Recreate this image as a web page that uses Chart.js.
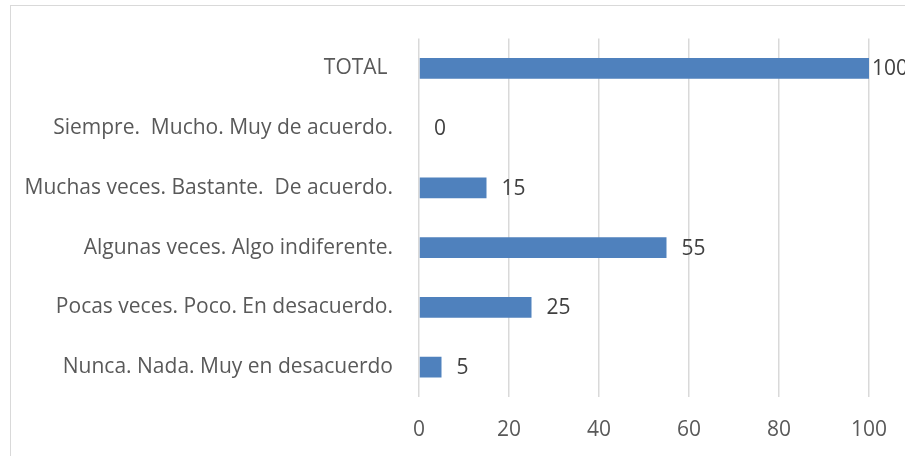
<!DOCTYPE html>
<html>
<head>
<meta charset="utf-8">
<script src="https://cdn.jsdelivr.net/npm/chart.js@4"></script>
<style>
  html, body { margin:0; padding:0; background:#fff; overflow:hidden; }
  #wrap { position:relative; width:905px; height:456px; }
  #frame {
    position:absolute; left:10px; top:5px; width:1000px; height:600px;
    border:1px solid #d9d9d9; box-sizing:border-box;
  }
  #grafico { position:absolute; left:0; top:0; }
</style>
</head>
<body>
<div id="wrap">
  <div id="frame"></div>
  <canvas id="grafico" width="905" height="456"></canvas>
</div>
<script>
// ===== DATOS =====
const categorias = [
  "TOTAL ",
  "Siempre.  Mucho. Muy de acuerdo.",
  "Muchas veces. Bastante.  De acuerdo.",
  "Algunas veces. Algo indiferente.",
  "Pocas veces. Poco. En desacuerdo.",
  "Nunca. Nada. Muy en desacuerdo"
];
const valores = [100, 0, 15, 55, 25, 5];
const ticksX = [0, 20, 40, 60, 80, 100];

const fuente = "'Open Sans', 'Noto Sans', sans-serif";
const gris = '#595959';

// etiquetas de valor a la derecha de cada barra
const etiquetas = {
  id:'etiquetas',
  afterDatasetsDraw(chart){
    const ctx = chart.ctx;
    const meta = chart.getDatasetMeta(0);
    const area = chart.chartArea;
    ctx.save();
    ctx.font = '21px ' + fuente;
    ctx.fillStyle = '#404040';
    ctx.textAlign = 'left';
    ctx.textBaseline = 'middle';
    meta.data.forEach((bar,i)=>{
      const x = Math.min(bar.x + 15, area.right + 3);
      ctx.fillText(String(valores[i]), x, bar.y + 1);
    });
    ctx.restore();
  }
};

new Chart(document.getElementById('grafico'), {
  type:'bar',
  data:{
    labels:categorias,
    datasets:[{
      data:valores,
      backgroundColor:'#4f81bd',
      borderWidth:0,
      barPercentage:0.55,
      categoryPercentage:0.63
    }]
  },
  options:{
    indexAxis:'y',
    responsive:false,
    animation:false,
    layout:{ padding:{ left:0, right:36, top:35, bottom:0 } },
    plugins:{ legend:{display:false}, tooltip:{enabled:false} },
    scales:{
      x:{
        min:0, max:100,
        afterBuildTicks:(s)=>{ s.ticks = ticksX.map(v=>({value:v})); },
        afterFit:(s)=>{ s.height = 59; s.paddingLeft = 0; s.paddingRight = 0; },
        grid:{ color:'#d9d9d9', lineWidth:1.5, drawTicks:false },
        border:{ display:false },
        ticks:{ padding:20, color:gris, font:{ size:21, family:fuente } }
      },
      y:{
        afterFit:(s)=>{ s.width = 419; },
        grid:{ display:false, drawTicks:false },
        border:{ display:false },
        ticks:{ padding:26, color:gris, font:{ size:21, family:fuente } }
      }
    }
  },
  plugins:[etiquetas]
});
</script>
</body>
</html>
